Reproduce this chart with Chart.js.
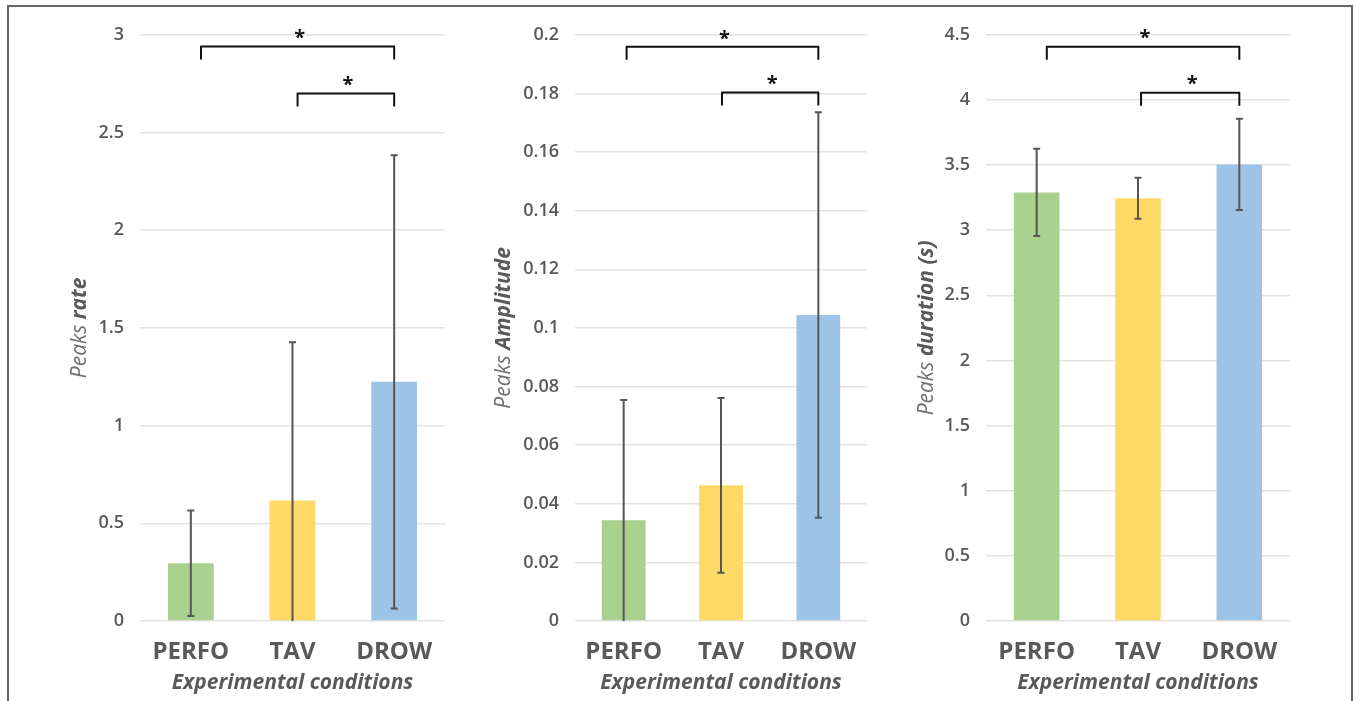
<!DOCTYPE html>
<html>
<head>
<meta charset="utf-8">
<script src="https://cdn.jsdelivr.net/npm/chart.js@4"></script>
<style>
  body { margin: 0; background: #fff; width: 1356px; height: 701px; overflow: hidden; position: relative; }
  #frame { position: absolute; left: 7px; top: 5px; width: 1342px; height: 700px;
           border-left: 2px solid #666; border-top: 2px solid #666; border-right: 2px solid #666; }
  canvas { position: absolute; }
</style>
</head>
<body>
<div id="frame"></div>
<canvas id="rateChart" width="440" height="692" style="left:10px;top:8px"></canvas>
<canvas id="ampChart" width="430" height="692" style="left:450px;top:8px"></canvas>
<canvas id="durChart" width="420" height="692" style="left:880px;top:8px"></canvas>
<script>
const categories = ["PERFO", "TAV", "DROW"];
const barColors = ["#a9d18e", "#ffd966", "#9dc3e6"];

const rateMeans = [0.295, 0.617, 1.224];
const rateErrors = [0.27, 0.81, 1.16];
const rateBrackets = [{ from: 0.1, to: 2, y: 2.94 }, { from: 1.05, to: 2, y: 2.70 }];

const ampMeans = [0.0344, 0.0463, 0.1044];
const ampErrors = [0.041, 0.0298, 0.0692];
const ampBrackets = [{ from: 0.03, to: 2, y: 0.1959 }, { from: 1.01, to: 2, y: 0.1803 }];

const durMeans = [3.29, 3.245, 3.505];
const durErrors = [0.335, 0.157, 0.35];
const durBrackets = [{ from: 0.1, to: 2, y: 4.408 }, { from: 1.03, to: 2, y: 4.056 }];

const FONT = "'Open Sans', sans-serif";
const GREY = "#595959";

function fmt(v) { return String(Number(v.toFixed(4))); }

function makeChart(id, means, errors, yMax, yStep, brackets, titleParts, yWidth, padRight, titleX) {
    const extras = {
        id: 'extras',
        afterDatasetsDraw(chart) {
            const ctx = chart.ctx;
            const xs = chart.scales.x, ys = chart.scales.y;
            // error bars
            ctx.save();
            ctx.strokeStyle = "#555";
            ctx.lineWidth = 2;
            means.forEach((m, i) => {
                const x = xs.getPixelForValue(i);
                const lo = Math.max(0, m - errors[i]);
                const yt = ys.getPixelForValue(m + errors[i]);
                const yb = ys.getPixelForValue(lo);
                ctx.beginPath();
                ctx.moveTo(x, yt); ctx.lineTo(x, yb);
                ctx.moveTo(x - 3.5, yt); ctx.lineTo(x + 3.5, yt);
                if (lo > 0) { ctx.moveTo(x - 3.5, yb); ctx.lineTo(x + 3.5, yb); }
                ctx.stroke();
            });
            // significance brackets
            ctx.strokeStyle = "#111";
            ctx.lineWidth = 2;
            ctx.lineJoin = "round";
            ctx.fillStyle = "#111";
            ctx.font = "bold 20px " + FONT;
            ctx.textAlign = "center";
            ctx.textBaseline = "middle";
            const step = xs.getPixelForValue(1) - xs.getPixelForValue(0);
            brackets.forEach(b => {
                const x1 = xs.getPixelForValue(0) + b.from * step;
                const x2 = xs.getPixelForValue(0) + b.to * step;
                const y = ys.getPixelForValue(b.y);
                ctx.beginPath();
                ctx.moveTo(x1, y + 13); ctx.lineTo(x1, y); ctx.lineTo(x2, y); ctx.lineTo(x2, y + 13);
                ctx.stroke();
                ctx.fillText("*", (x1 + x2) / 2 + 2, y - 8);
            });
            // y axis title with mixed styles
            const cy = (chart.chartArea.top + chart.chartArea.bottom) / 2;
            ctx.translate(titleX, cy);
            ctx.rotate(-Math.PI / 2);
            ctx.textAlign = "left";
            const f1 = "italic 400 21px " + FONT, f2 = "italic bold 21px " + FONT;
            ctx.font = f1; const w1 = ctx.measureText(titleParts[0] + " ").width;
            ctx.font = f2; const w2 = ctx.measureText(titleParts[1]).width;
            const x0 = -(w1 + w2) / 2;
            ctx.fillStyle = "#707070";
            ctx.font = f1; ctx.fillText(titleParts[0] + " ", x0, 0);
            ctx.fillStyle = GREY;
            ctx.font = f2; ctx.fillText(titleParts[1], x0 + w1, 0);
            ctx.restore();
        }
    };
    return new Chart(document.getElementById(id).getContext('2d'), {
        type: 'bar',
        data: {
            labels: categories,
            datasets: [{
                data: means,
                backgroundColor: barColors,
                barPercentage: 0.45,
                categoryPercentage: 1,
            }]
        },
        options: {
            responsive: false,
            animation: false,
            devicePixelRatio: 1,
            layout: { padding: { top: 25, right: padRight, bottom: 0, left: 0 } },
            scales: {
                x: {
                    grid: { display: false },
                    border: { display: false },
                    ticks: { color: GREY, font: { family: FONT, size: 24, weight: 'bold' }, padding: 9 },
                    title: {
                        display: true,
                        text: "Experimental conditions",
                        color: GREY,
                        font: { family: FONT, size: 21, weight: 'bold', style: 'italic' },
                        padding: { top: 0, bottom: 4 }
                    },
                    afterFit(scale) { scale.height = 79; }
                },
                y: {
                    min: 0,
                    max: yMax,
                    border: { display: false },
                    grid: { color: "#e3e3e3", lineWidth: 1.5, drawTicks: false },
                    ticks: { stepSize: yStep, color: GREY, padding: 16, callback: fmt,
                             font: { family: FONT, size: 18, weight: '600' } },
                    afterFit(scale) { scale.width = yWidth; }
                }
            },
            plugins: {
                legend: { display: false },
                tooltip: { enabled: false }
            }
        },
        plugins: [extras]
    });
}

makeChart('rateChart', rateMeans, rateErrors, 3, 0.5, rateBrackets, ["Peaks", "rate"], 130, 5, 70);
makeChart('ampChart', ampMeans, ampErrors, 0.2, 0.02, ampBrackets, ["Peaks", "Amplitude"], 125, 13, 54);
makeChart('durChart', durMeans, durErrors, 4.5, 0.5, durBrackets, ["Peaks", "duration (s)"], 106, 10, 47);
</script>
</body>
</html>
